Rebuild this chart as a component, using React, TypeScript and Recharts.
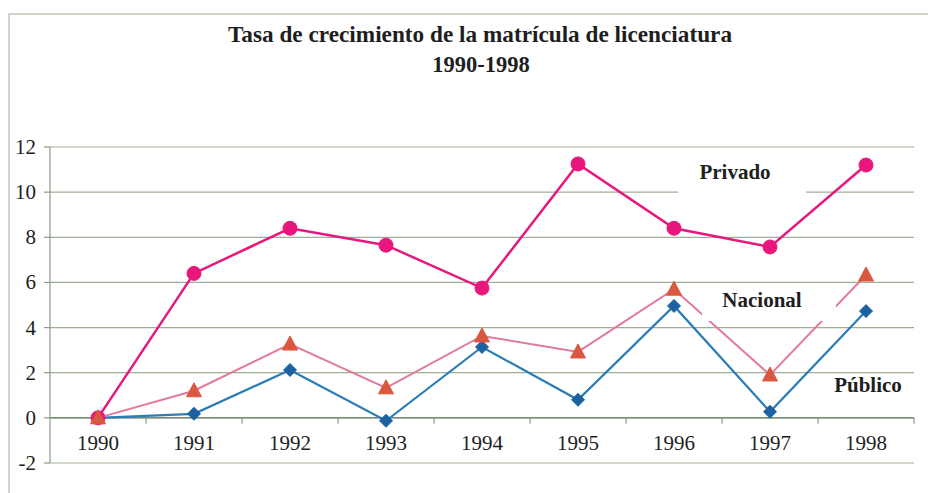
import React from "react";
import { LineChart, Line, XAxis, YAxis, CartesianGrid, ReferenceLine } from "recharts";

const years = ["1990", "1991", "1992", "1993", "1994", "1995", "1996", "1997", "1998"];
const privado = [0, 6.4, 8.4, 7.65, 5.75, 11.25, 8.4, 7.57, 11.2];
const nacional = [0, 1.2, 3.27, 1.33, 3.63, 2.92, 5.7, 1.9, 6.33];
const publico = [0, 0.18, 2.12, -0.13, 3.14, 0.8, 4.96, 0.27, 4.73];
const yTicks = [-2, 0, 2, 4, 6, 8, 10, 12];

const data = years.map((year, i) => ({
  year,
  privado: privado[i],
  nacional: nacional[i],
  publico: publico[i],
}));

const W = 928;
const H = 485;
const MARGIN = { top: 139, right: 22, left: 0, bottom: 0 };
const Y_AXIS_W = 42;
const X_AXIS_H = 30;
const PLOT_W = W - MARGIN.left - MARGIN.right - Y_AXIS_W;
const PLOT_H = H - MARGIN.top - MARGIN.bottom - X_AXIS_H;
const BAND = PLOT_W / years.length;
const Y_MIN = -2;
const Y_MAX = 12;
const ZERO_Y = MARGIN.top + (PLOT_H * (Y_MAX - 0)) / (Y_MAX - Y_MIN);

const FONT = '"Liberation Serif", "Times New Roman", serif';
const AXIS = "#8a9a83";
const GRID = "#9fae96";
const TEXT = "#1e1e1e";

function XTick(props: any) {
  const { x, payload } = props;
  return (
    <g>
      <line x1={x + BAND / 2} x2={x + BAND / 2} y1={ZERO_Y} y2={ZERO_Y + 6} stroke={AXIS} strokeWidth={1.2} />
      <text x={x} y={ZERO_Y + 32} textAnchor="middle" fontFamily={FONT} fontSize={21} fill={TEXT}>
        {payload.value}
      </text>
    </g>
  );
}

function YTick(props: any) {
  const { x, y, payload } = props;
  return (
    <text x={x} y={y + 7} textAnchor="end" fontFamily={FONT} fontSize={21} fill={TEXT}>
      {payload.value}
    </text>
  );
}

function CircleDot(props: any) {
  const { cx, cy, index } = props;
  if (cx == null || cy == null) return <g key={`c-${index}`} />;
  return <circle key={`c-${index}`} cx={cx} cy={cy} r={7} fill="#e8177c" stroke="#e8177c" />;
}

function TriangleDot(props: any) {
  const { cx, cy, index } = props;
  if (cx == null || cy == null) return <g key={`t-${index}`} />;
  const d = `M${cx},${cy - 8} L${cx + 7.5},${cy + 6} L${cx - 7.5},${cy + 6} Z`;
  return <path key={`t-${index}`} d={d} fill="#d9583f" stroke="#d9583f" strokeWidth={1} />;
}

function DiamondDot(props: any) {
  const { cx, cy, index } = props;
  if (cx == null || cy == null) return <g key={`d-${index}`} />;
  const s = 6.5;
  const d = `M${cx},${cy - s} L${cx + s},${cy} L${cx},${cy + s} L${cx - s},${cy} Z`;
  return <path key={`d-${index}`} d={d} fill="#1d62a0" stroke="#1d62a0" strokeWidth={1} />;
}

export default function App() {
  return (
    <div style={{ position: "relative", width: W, height: H }}>
      <div
        style={{
          position: "absolute",
          left: 0,
          top: 5,
          right: 0,
          bottom: 0,
          borderTop: "2px solid #cdd6c8",
          borderLeft: "2px solid #cdd6c8",
        }}
      />
      <LineChart width={W} height={H} data={data} margin={MARGIN}>
        <CartesianGrid vertical={false} stroke={GRID} strokeWidth={1.2} />
        <XAxis
          dataKey="year"
          axisLine={false}
          tickLine={false}
          height={X_AXIS_H}
          interval={0}
          padding={{ left: BAND / 2, right: BAND / 2 }}
          tick={<XTick />}
        />
        <YAxis
          domain={[Y_MIN, Y_MAX]}
          ticks={yTicks}
          width={Y_AXIS_W}
          tickSize={6}
          tickMargin={8}
          axisLine={{ stroke: AXIS, strokeWidth: 1.2 }}
          tickLine={{ stroke: AXIS, strokeWidth: 1.2 }}
          tick={<YTick />}
        />
        <ReferenceLine y={0} stroke="#7d8c76" strokeWidth={1.5} />
        <Line
          dataKey="publico"
          stroke="#2a7db5"
          strokeWidth={2.2}
          dot={DiamondDot}
          isAnimationActive={false}
        />
        <Line
          dataKey="privado"
          stroke="#e8177c"
          strokeWidth={2.5}
          dot={CircleDot}
          isAnimationActive={false}
        />
        <Line
          dataKey="nacional"
          stroke="#e27a9c"
          strokeWidth={2}
          dot={TriangleDot}
          isAnimationActive={false}
        />
      </LineChart>
      <svg
        width={W}
        height={H}
        style={{ position: "absolute", left: 0, top: 0, pointerEvents: "none" }}
      >
        <text
          x={472}
          y={34}
          textAnchor="middle"
          fontFamily={FONT}
          fontWeight="bold"
          fontSize={22.5}
          fill={TEXT}
          textLength={504}
          lengthAdjust="spacingAndGlyphs"
        >
          Tasa de crecimiento de la matrícula de licenciatura
        </text>
        <text x={473} y={64} textAnchor="middle" fontFamily={FONT} fontWeight="bold" fontSize={22.5} fill={TEXT}>
          1990-1998
        </text>
        <rect x={670} y={150} width={128} height={40} fill="#ffffff" />
        <text x={727} y={171} textAnchor="middle" fontFamily={FONT} fontWeight="bold" fontSize={21} fill={TEXT}>
          Privado
        </text>
        <rect x={694} y={278} width={134} height={35} fill="#ffffff" />
        <text x={754} y={299} textAnchor="middle" fontFamily={FONT} fontWeight="bold" fontSize={21} fill={TEXT}>
          Nacional
        </text>
        <text x={860} y={384} textAnchor="middle" fontFamily={FONT} fontWeight="bold" fontSize={21} fill={TEXT}>
          Público
        </text>
      </svg>
    </div>
  );
}
